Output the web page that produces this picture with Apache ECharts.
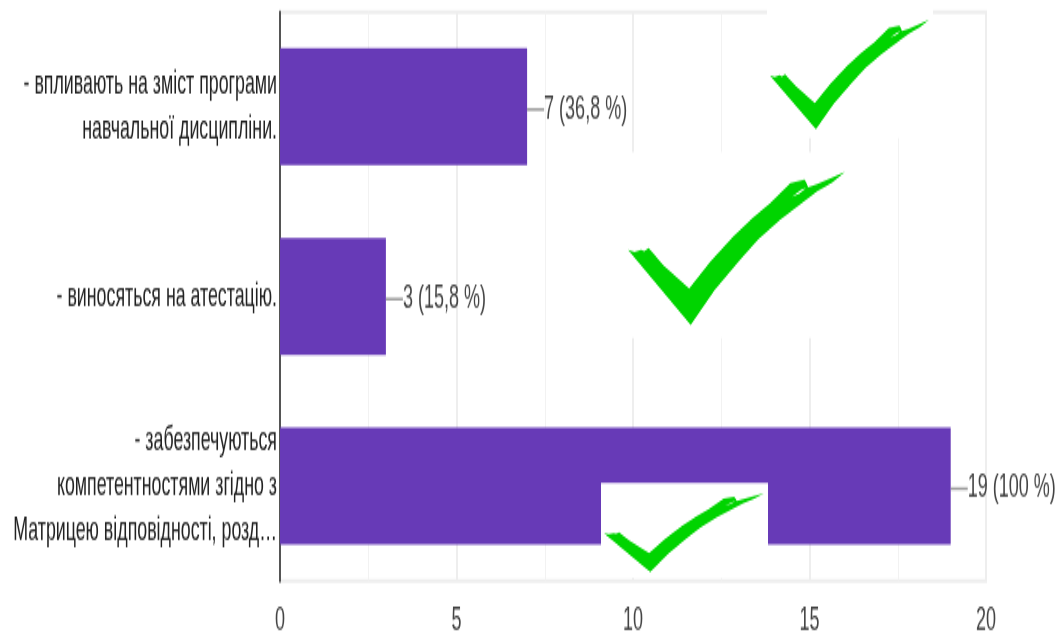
<!DOCTYPE html>
<html><head><meta charset="utf-8">
<style>html,body{margin:0;padding:0;background:#fff;width:1061px;height:632px}
#c{width:1061px;height:351.11px;transform:scaleY(1.8);transform-origin:0 0}</style>
<script src="https://cdn.jsdelivr.net/npm/echarts@6/dist/echarts.min.js"></script>
</head><body><div id="c"></div>
<script>
const categories = [
  "- впливають на зміст програми\nнавчальної дисципліни.",
  "- виносяться на атестацію.",
  "- забезпечуються\nкомпетентностями згідно з\nМатрицею відповідності, розд…"
];
const values = [7, 3, 19];
const valueLabels = ["7 (36,8 %)", "3 (15,8 %)", "19 (100 %)"];
const FONT = '"Liberation Sans",Arial,sans-serif';
const K = 1.8; // the reference is stretched vertically by this factor

// check-mark outline (hand-traced), x 0..1, y 0..1
const tick = [[0,.509],[.03,.522],[.06,.507],[.075,.518],[.095,.497],[.115,.53],[.162,.607],[.282,.76],
 [.38,.585],[.486,.421],[.575,.3],[.656,.203],[.748,.072],[.813,.05],[.82,.065],[.83,.1],[.872,.079],
 [1,0],[.94,.07],[.872,.127],[.702,.312],[.6,.44],[.517,.574],[.4,.77],[.289,1]];
const sliver = [[.756,.16],[.8,.115],[.82,.105],[.79,.14]];
function poly(pts, x, y, w, h, fill, z){
  return {type:'polygon', z, silent:true,
    shape:{points:pts.map(p=>[x+p[0]*w, (y+p[1]*h)/K])},
    style:{fill}};
}
function check(x, y, w, h){
  return [poly(tick,x,y,w,h,'#00d400',12), poly(sliver,x,y,w,h,'#ffffff',13)];
}
function patch(x, y, w, h){
  return {type:'rect', z:11, silent:true, shape:{x,y:y/K,width:w,height:h/K}, style:{fill:'#fff'}};
}
const chart = echarts.init(document.getElementById('c'), null, {renderer:'canvas'});
chart.setOption({
  animation:false,
  backgroundColor:'#fff',
  grid:{left:280, right:75, top:12/K, bottom:51/K, outerBoundsMode:'none', show:true, borderColor:'#eeeeee', borderWidth:2},
  xAxis:{type:'value', min:0, max:20, interval:5,
    axisLine:{show:false}, axisTick:{show:false},
    axisLabel:{fontFamily:FONT, fontSize:18, color:'#444', margin:13},
    splitLine:{show:true, lineStyle:{color:'#eeeeee', width:2}},
    minorTick:{show:false, splitNumber:2},
    minorSplitLine:{show:true, lineStyle:{color:'#f2f2f2', width:1}}
  },
  yAxis:{type:'category', inverse:true, data:categories,
    axisLine:{show:true, lineStyle:{color:'#555', width:2}}, axisTick:{show:false},
    axisLabel:{fontFamily:FONT, fontSize:17.8, color:'#222', lineHeight:25, margin:3, align:'right', padding:[3,0,0,0]},
    splitLine:{show:false}
  },
  series:[{type:'bar', data:values, barWidth:117/K,
    itemStyle:{color:'#673ab7'},
    label:{show:true, position:'right', distance:17, fontFamily:FONT, fontSize:18, color:'#444',
      formatter:p=>valueLabels[p.dataIndex]},
    labelLayout:{dx:0, dy:1.5},
    labelLine:{show:true, lineStyle:{color:'#999', width:1.5}}
  }],
  graphic:[
    patch(767,3,166,135), patch(627,152,223,186), patch(601,483,167,95),
    ...check(770,20,159,109), ...check(628,172,217,153), ...check(604,493,160,79)
  ]
});
</script></body></html>
